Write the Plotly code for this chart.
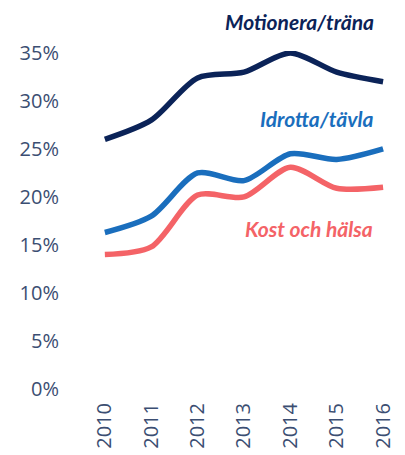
import plotly.graph_objects as go

years = [2010, 2011, 2012, 2013, 2014, 2015, 2016]
motionera = [26.0, 28.0, 32.4, 33.0, 35.0, 33.0, 32.0]
idrotta = [16.3, 18.0, 22.5, 21.7, 24.5, 23.9, 25.0]
kost = [14.0, 14.8, 20.2, 20.0, 23.1, 20.9, 21.0]
yticks = [0, 5, 10, 15, 20, 25, 30, 35]
ytick_text = [f"{v}%" for v in yticks]

navy = "#0b2358"
blue = "#1a6ebd"
coral = "#f46367"
tickc = "#3b4e72"

fig = go.Figure()
for vals, col in [(motionera, navy), (idrotta, blue), (kost, coral)]:
    fig.add_trace(go.Scatter(x=years, y=vals, mode="lines",
                             line=dict(color=col, width=5.5, shape="spline", smoothing=0.8),
                             showlegend=False, hoverinfo="skip"))

fig.add_annotation(x=2015.82, y=1.127, xref="x", yref="paper", text="<b><i>Motionera/träna</i></b>",
                   showarrow=False, xanchor="right", yanchor="top", borderpad=0,
                   font=dict(family="Lato", size=21, color=navy))
for txt, yv, col in [("Idrotta/tävla", 0.801, blue), ("Kost och hälsa", 0.476, coral)]:
    fig.add_annotation(x=2015.82, y=yv, xref="x", yref="paper", text=f"<b><i>{txt}</i></b>",
                       showarrow=False, xanchor="right", yanchor="middle",
                       font=dict(family="Lato", size=21, color=col))

fig.update_layout(
    width=405, height=455,
    margin=dict(l=72, r=18, t=43, b=74),
    paper_bgcolor="white", plot_bgcolor="white",
    font=dict(family="Open Sans", color=tickc),
    xaxis=dict(range=[2009.507, 2016.257], tickvals=years, ticktext=[str(y) for y in years],
               tickangle=-90, showgrid=False, zeroline=False, showline=False,
               tickfont=dict(size=20, color=tickc), ticks="", ticklabelstandoff=9),
    yaxis=dict(range=[0, 35.2], tickvals=yticks, ticktext=ytick_text, showgrid=False,
               zeroline=False, showline=False, tickfont=dict(size=20, color=tickc),
               ticks="", ticklabelstandoff=22),
)
fig.write_html("out.html", config={"displayModeBar": False})
